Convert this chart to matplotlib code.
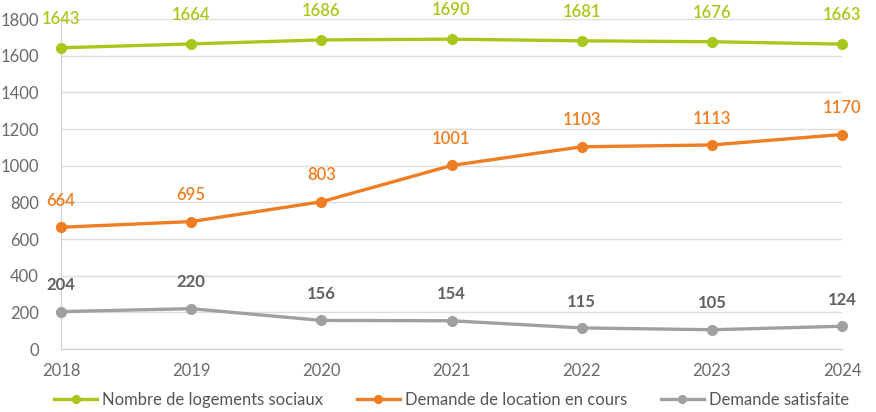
import matplotlib

matplotlib.use("Agg")
import matplotlib.pyplot as plt

years = [2018, 2019, 2020, 2021, 2022, 2023, 2024]
logements = [1643, 1664, 1686, 1690, 1681, 1676, 1663]
demande_cours = [664, 695, 803, 1001, 1103, 1113, 1170]
demande_satisfaite = [204, 220, 156, 154, 115, 105, 124]

series = [
    ("Nombre de logements sociaux", logements, "#a8c71c", "#a8c71c", 21),
    ("Demande de location en cours", demande_cours, "#ee7d23", "#ee7d23", 19),
    ("Demande satisfaite", demande_satisfaite, "#a0a0a0", "#606060", 19),
]

plt.rcParams["font.family"] = ["Lato", "DejaVu Sans"]

fig = plt.figure(figsize=(8.76, 4.12), dpi=100)
ax = fig.add_axes([61 / 876, 1 - 349 / 412, (842 - 61) / 876, (349 - 19) / 412])

for label, vals, color, tcolor, off in series:
    ax.plot(years, vals, color=color, lw=2.4, marker="o", ms=7, label=label,
            clip_on=False, zorder=3)
    for x, v in zip(years, vals):
        ax.annotate(str(v), (x, v), xytext=(0, off), textcoords="offset points",
                    ha="center", va="center", color=tcolor, fontsize=12,
                    fontweight="bold" if tcolor == "#606060" else "semibold")

ax.set_xlim(2018, 2024)
ax.set_ylim(0, 1800)
ax.set_yticks(range(0, 1801, 200))
ax.set_xticks(years)
ax.grid(axis="y", color="#dddddd", lw=1)
ax.set_axisbelow(True)
for s in ["top", "right"]:
    ax.spines[s].set_visible(False)
ax.spines["left"].set_color("#d0d0d0")
ax.spines["bottom"].set_color("#d0d0d0")
ax.tick_params(length=0, colors="#6a6a6a", labelsize=12)
ax.tick_params(axis="x", pad=10)
ax.tick_params(axis="y", pad=16)

ax.legend(loc="center", bbox_to_anchor=(0.5, -0.155), ncol=3, frameon=False,
          fontsize=12, labelcolor="#555555", handlelength=2.6, columnspacing=2.0,
          handletextpad=0.3, markerscale=0.8)

fig.savefig("out.png", dpi=100)
